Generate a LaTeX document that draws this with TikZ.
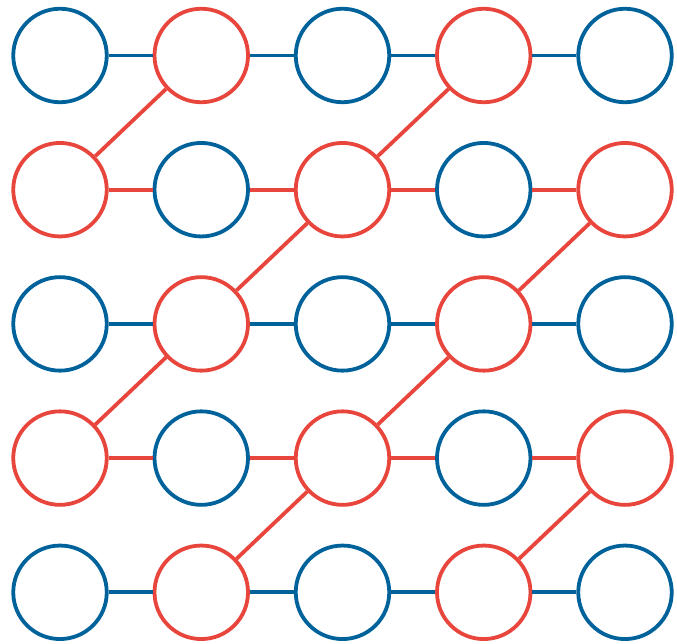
\documentclass[tikz,border=0pt]{standalone}
\usetikzlibrary{calc}
\definecolor{dotblue}{RGB}{0,98,155}
\definecolor{dotred}{RGB}{232,69,60}

\begin{document}
\begin{tikzpicture}[x=1pt, y=-1pt, line width=3.8pt,
    ring/.style={draw, circle, minimum size=93.5pt, inner sep=0pt}
]
  \useasboundingbox (0,0) rectangle (677,644);

  % rings, checkerboard colours
  \foreach \r in {0,...,4} {
    \foreach \c in {0,...,4} {
      \pgfmathtruncatemacro{\s}{mod(\r+\c,2)}
      \ifnum\s=0 \def\col{dotblue}\else\def\col{dotred}\fi
      \node[ring, draw=\col] (n\r\c) at ({60+141.25*\c},{55.5+134.2*\r}) {};
    }
  }

  % row links
  \foreach \r in {0,...,4} {
    \pgfmathtruncatemacro{\s}{mod(\r,2)}
    \ifnum\s=0 \def\col{dotblue}\else\def\col{dotred}\fi
    \foreach \c [count=\d from 1] in {0,...,3}
      \draw[draw=\col] (n\r\c) -- (n\r\d);
  }

  % diagonal links
  \foreach \a/\b in {01/10, 03/12, 12/21, 14/23, 21/30, 23/32, 32/41, 34/43}
    \draw[dotred] (n\a) -- (n\b);
\end{tikzpicture}
\end{document}
